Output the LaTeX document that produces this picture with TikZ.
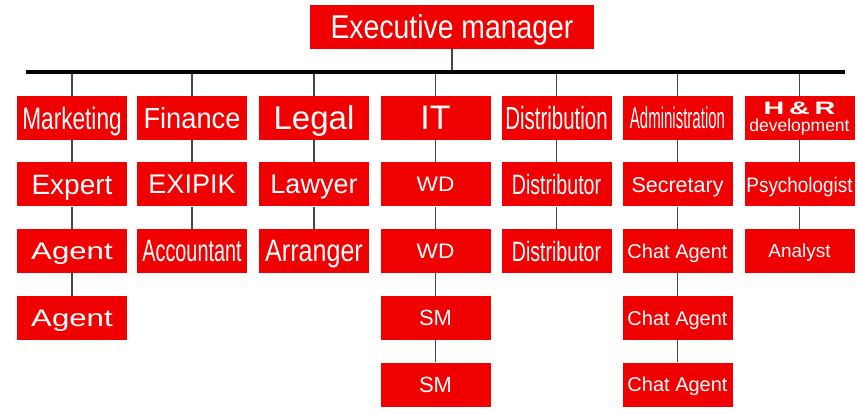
\documentclass[tikz,border=0pt]{standalone}
\usepackage{fontspec}
\setmainfont{Liberation Sans}
\usepackage{graphicx}
\newcommand{\fs}[1]{\fontsize{#1}{#1}\selectfont}
\newcommand{\sx}[2]{\scalebox{#1}[1]{#2}}
\definecolor{boxred}{RGB}{240,0,0}
\definecolor{linkgray}{RGB}{70,70,70}
\tikzset{
  box/.style={fill=boxred, text=white, minimum width=110pt, minimum height=44pt, inner sep=0pt, text depth=0pt},
  link/.style={draw=linkgray, line width=1.3pt},
  bar/.style={draw=black, line width=4pt}
}
\begin{document}
\begin{tikzpicture}[x=1pt,y=-1pt]
\useasboundingbox (0,0) rectangle (857,414);
\coordinate (barL) at (26,72);
\coordinate (barR) at (845,72);
\node[box, minimum width=284pt] (top) at (452,27) {\fs{33}\sx{0.86}{Executive manager}};
% column 1
\node[box] (m1) at (72,118) {\fs{31}\sx{0.73}{Marketing}};
\node[box] (m2) at (72,184.5) {\fs{28}Expert};
\node[box] (m3) at (72,251) {\fs{24}\sx{1.3}{Agent}};
\node[box] (m4) at (72,318) {\fs{24}\sx{1.3}{Agent}};
% column 2
\node[box] (f1) at (192,118) {\fs{29}\sx{0.94}{Finance}};
\node[box] (f2) at (192,184.5) {\fs{27}EXIPIK};
\node[box] (f3) at (192,251) {\fs{31}\sx{0.64}{Accountant}};
% column 3
\node[box] (l1) at (314,118) {\fs{33}Legal};
\node[box] (l2) at (314,184.5) {\fs{27}Lawyer};
\node[box] (l3) at (314,251) {\fs{31}\sx{0.81}{Arranger}};
% column 4
\node[box] (i1) at (435.5,118) {\fs{34}IT};
\node[box] (i2) at (435.5,184.5) {\fs{21}\sx{1.08}{WD}};
\node[box] (i3) at (435.5,251) {\fs{21}\sx{1.08}{WD}};
\node[box] (i4) at (435.5,318) {\fs{22}SM};
\node[box] (i5) at (435.5,384.5) {\fs{22}SM};
% column 5
\node[box] (d1) at (556.5,118) {\fs{32}\sx{0.64}{Distribution}};
\node[box] (d2) at (556.5,184.5) {\fs{28}\sx{0.70}{Distributor}};
\node[box] (d3) at (556.5,251) {\fs{28}\sx{0.70}{Distributor}};
% column 6
\node[box] (a1) at (677.5,118) {\fs{30}\sx{0.5}{Administration}};
\node[box] (a2) at (677.5,184.5) {\fs{21.5}Secretary};
\node[box] (a3) at (677.5,251) {\fs{20}Chat Agent};
\node[box] (a4) at (677.5,318) {\fs{20}Chat Agent};
\node[box] (a5) at (677.5,384.5) {\fs{20}Chat Agent};
% column 7
\node[box, align=center, font=\fs{17}, text height=32pt, text depth=4pt] (h1) at (799.5,118)
  {\fs{18}\sx{1.6}{\textbf{H\kern3pt\&\kern3pt R}}\\\fs{17.5}development};
\node[box] (h2) at (799.5,184.5) {\fs{21}\sx{0.9}{Psychologist}};
\node[box] (h3) at (799.5,251) {\fs{19}Analyst};
% connectors
\draw[link] (top.south) -- (top.south |- barL);
\foreach \n in {m1,f1,l1,i1,d1,a1,h1}{
  \draw[link] (\n.north) -- (\n.north |- barL);
}
\draw[link] (m1) -- (m2); \draw[link] (m2) -- (m3); \draw[link] (m3) -- (m4);
\draw[link] (f1) -- (f2); \draw[link] (f2) -- (f3);
\draw[link] (l1) -- (l2); \draw[link] (l2) -- (l3);
\draw[link] (i1) -- (i2); \draw[link] (i2) -- (i3); \draw[link] (i3) -- (i4); \draw[link] (i4) -- (i5);
\draw[link] (d1) -- (d2); \draw[link] (d2) -- (d3);
\draw[link] (a1) -- (a2); \draw[link] (a2) -- (a3); \draw[link] (a3) -- (a4); \draw[link] (a4) -- (a5);
\draw[link] (h1) -- (h2); \draw[link] (h2) -- (h3);
\draw[bar] (barL) -- (barR);
\end{tikzpicture}
\end{document}
